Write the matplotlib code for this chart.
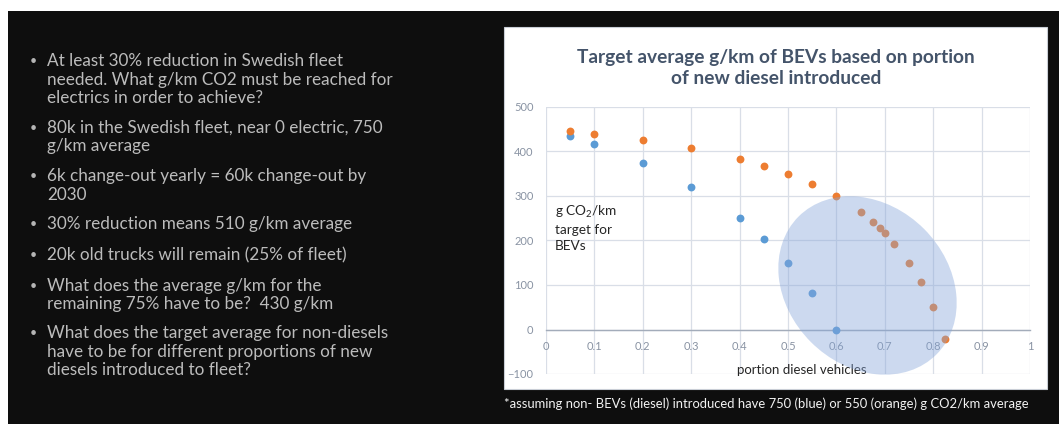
import matplotlib.pyplot as plt
from matplotlib.patches import Rectangle, Ellipse

plt.rcParams['font.family'] = ['Lato', 'DejaVu Sans']
plt.rcParams['mathtext.fontset'] = 'custom'
plt.rcParams['mathtext.rm'] = 'Lato'

W, H = 1059, 424

# portion of new diesel vehicles and the BEV target (g CO2/km) it implies
portion_750 = [0.05, 0.1, 0.2, 0.3, 0.4, 0.45, 0.5, 0.55, 0.6]
target_750 = [434, 417, 375, 321, 250, 204, 150, 83, 0]

portion_550 = [0.05, 0.1, 0.2, 0.3, 0.4, 0.45, 0.5, 0.55, 0.6,
               0.65, 0.675, 0.69, 0.7, 0.72, 0.75, 0.775, 0.8, 0.825]
target_550 = [445, 439, 425, 407, 383, 368, 350, 328, 300,
              264, 242, 227, 217, 193, 150, 106, 50, -21]

x_ticks = [0, 0.1, 0.2, 0.3, 0.4, 0.5, 0.6, 0.7, 0.8, 0.9, 1]
x_tick_labels = ['0', '0.1', '0.2', '0.3', '0.4', '0.5', '0.6', '0.7', '0.8', '0.9', '1']
y_ticks = [-100, 0, 100, 200, 300, 400, 500]

bullets = [
    ["At least 30% reduction in Swedish fleet",
     "needed. What g/km CO2 must be reached for",
     "electrics in order to achieve?"],
    ["80k in the Swedish fleet, near 0 electric, 750",
     "g/km average"],
    ["6k change-out yearly = 60k change-out by",
     "2030"],
    ["30% reduction means 510 g/km average"],
    ["20k old trucks will remain (25% of fleet)"],
    ["What does the average g/km for the",
     "remaining 75% have to be?  430 g/km"],
    ["What does the target average for non-diesels",
     "have to be for different proportions of new",
     "diesels introduced to fleet?"],
]
bullet_tops = [61, 128, 176, 224, 255, 286, 333]

title = "Target average g/km of BEVs based on portion\nof new diesel introduced"
caption = "*assuming non- BEVs (diesel) introduced have 750 (blue) or 550 (orange) g CO2/km average"


def fx(px):
    return px / W


def fy(py):
    return 1 - py / H


fig = plt.figure(figsize=(W / 100, H / 100), dpi=100)
fig.patch.set_facecolor('white')

# dark slide background and white chart panel
fig.add_artist(Rectangle((fx(8), 0), 1 - fx(8), fy(11), transform=fig.transFigure,
                         facecolor='#0e0e0e', edgecolor='none', zorder=-10))
fig.add_artist(Rectangle((fx(504), fy(389)), fx(1047 - 504), (389 - 27) / H,
                         transform=fig.transFigure, facecolor='white',
                         edgecolor='#c9ced6', linewidth=0.8, zorder=-9))

# bullet list
line_gap = 18.5
for lines, top in zip(bullets, bullet_tops):
    fig.text(fx(30), fy(top), '•', color='#b5b5b5', fontsize=9,
             ha='left', va='center')
    for i, line in enumerate(lines):
        fig.text(fx(47), fy(top + i * line_gap), line, color='#bcbcbc',
                 fontsize=12.3, ha='left', va='center')

fig.text(fx(776), fy(68), title, color='#44546a', fontsize=13.8,
         fontweight='bold', ha='center', va='center', linespacing=1.3)

fig.text(fx(504), fy(404), caption, color='#f2f2f2', fontsize=9.4,
         ha='left', va='center')

ax = fig.add_axes([fx(546), fy(374), fx(1030 - 546), (374 - 107) / H])
ax.set_facecolor('none')
ax.scatter(portion_750, target_750, s=32, color='#5b9bd5', zorder=3, linewidths=0)
ax.scatter(portion_550, target_550, s=32, color='#ed7d31', zorder=3, linewidths=0)

ax.set_xlim(0, 1)
ax.set_ylim(-100, 500)
ax.set_xticks(x_ticks)
ax.set_xticklabels(x_tick_labels)
ax.set_yticks(y_ticks)
ax.grid(True, color='#d9dee7', linewidth=0.9)
ax.set_axisbelow(True)
for side in ['left', 'right', 'top']:
    ax.spines[side].set_visible(False)
ax.spines['bottom'].set_position(('data', 0))
ax.spines['bottom'].set_color('#a3acba')
ax.spines['bottom'].set_linewidth(1.0)
ax.tick_params(length=0, labelsize=8, colors='#8993a3')
ax.tick_params(axis='x', pad=8)
ax.tick_params(axis='y', pad=9)

ax.text(0.019, 0.64, 'g CO$_2$/km\ntarget for\nBEVs', transform=ax.transAxes,
        fontsize=9.8, color='#262626', ha='left', va='top', linespacing=1.4)
ax.text(0.529, 0.015, 'portion diesel vehicles', transform=ax.transAxes,
        fontsize=9.5, color='#262626', ha='center', va='center')

# highlight of the low-target region
ell = Ellipse((8.675, 1.385), 1.95, 1.60, angle=-45,
              transform=fig.dpi_scale_trans, facecolor='#86a6da',
              alpha=0.42, edgecolor='none', zorder=10)
fig.add_artist(ell)

fig.savefig('out.png', dpi=100)
